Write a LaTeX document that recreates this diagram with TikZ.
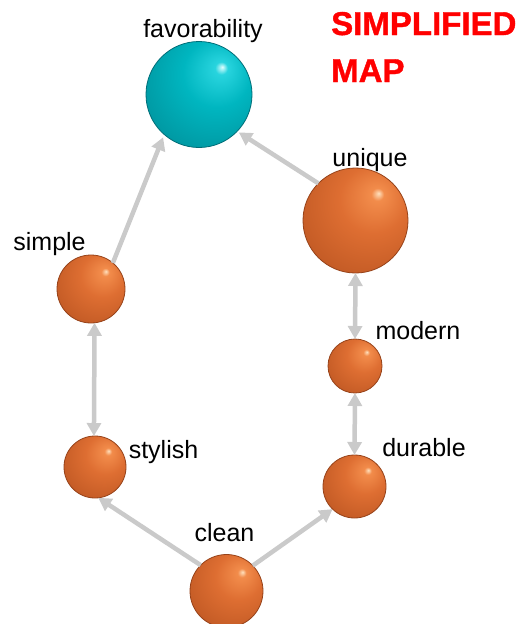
\documentclass[tikz,border=0pt]{standalone}
\usepackage{fontspec}
\setmainfont{Liberation Sans}
\newfontfamily\titlefont[FakeBold=1.2]{Liberation Sans Bold}
\usetikzlibrary{arrows.meta}
\definecolor{oHi}{RGB}{255,225,190}
\definecolor{oLight}{RGB}{242,140,75}
\definecolor{oMid}{RGB}{222,110,50}
\definecolor{oDark}{RGB}{180,80,30}
\definecolor{oEdge}{RGB}{150,66,25}
\definecolor{cHi}{RGB}{225,255,255}
\definecolor{cLight}{RGB}{40,212,222}
\definecolor{cMid}{RGB}{0,182,192}
\definecolor{cDark}{RGB}{0,135,145}
\definecolor{cEdge}{RGB}{0,110,120}
\definecolor{arrowgray}{RGB}{202,202,202}
\definecolor{titlered}{RGB}{255,0,0}
\pgfdeclareradialshading{orangeball}{\pgfpoint{11bp}{13bp}}{color(0bp)=(oHi); color(3bp)=(oLight); color(16bp)=(oMid); color(45bp)=(oDark); color(70bp)=(oEdge)}
\pgfdeclareradialshading{cyanball}{\pgfpoint{11bp}{13bp}}{color(0bp)=(cHi); color(3bp)=(cLight); color(16bp)=(cMid); color(45bp)=(cDark); color(70bp)=(cEdge)}
\tikzset{
  oball/.style={circle, inner sep=0pt, outer sep=0pt, shading=orangeball, draw=oEdge, line width=0.8pt},
  cball/.style={circle, inner sep=0pt, outer sep=0pt, shading=cyanball, draw=cEdge, line width=0.8pt},
  lbl/.style={font=\fontsize{25}{30}\selectfont, anchor=base, inner sep=0pt},
  ttl/.style={text=titlered, font=\titlefont\fontsize{33}{40}\selectfont, anchor=base west, inner sep=0pt},
  conn/.style={draw=arrowgray, line width=4.5pt},
  tip/.style={-{Triangle[length=13pt,width=14pt]}},
  tips/.style={{Triangle[length=13pt,width=14pt]}-{Triangle[length=13pt,width=14pt]}}
}
\begin{document}
\begin{tikzpicture}[x=1pt,y=-1pt]
\useasboundingbox (0,0) rectangle (518,624);
% spheres
\node[cball, minimum size=106pt] (fav) at (199,94.5) {};
\node[oball, minimum size=105pt] (unique) at (355.5,220.5) {};
\node[oball, minimum size=68pt] (simple) at (91,289) {};
\node[oball, minimum size=54pt] (modern) at (355,366) {};
\node[oball, minimum size=62pt] (stylish) at (95,467) {};
\node[oball, minimum size=63pt] (durable) at (354.5,486.5) {};
\node[oball, minimum size=73pt] (clean) at (226.5,591) {};
% connectors
\draw[conn, tip, shorten >=3pt] (simple.50) -- (fav.229);
\draw[conn, tip, shorten >=2pt] (unique.135) -- (fav.-44);
\draw[conn, tips] (simple.-84) -- (stylish.92);
\draw[conn, tips] (unique.south) -- (modern.north);
\draw[conn, tips] (modern.south) -- (durable.north);
\draw[conn, tip] (clean.135) -- (stylish.-84);
\draw[conn, tip] (clean.44) -- (durable.226);
% labels
\node[lbl] (tfav) at (203,37) {favorability};
\node[lbl] (tunique) at (370,166) {unique};
\node[lbl] (tsimple) at (49.5,250) {simple};
\node[lbl] (tmodern) at (418,339) {modern};
\node[lbl] (tdurable) at (424,456) {durable};
\node[lbl] (tstylish) at (163.5,458) {stylish};
\node[lbl] (tclean) at (224.5,541.5) {clean};
\node[ttl] (title1) at (331,35) {SIMPLIFIED};
\node[ttl] (title2) at (331,82) {MAP};
\end{tikzpicture}
\end{document}
